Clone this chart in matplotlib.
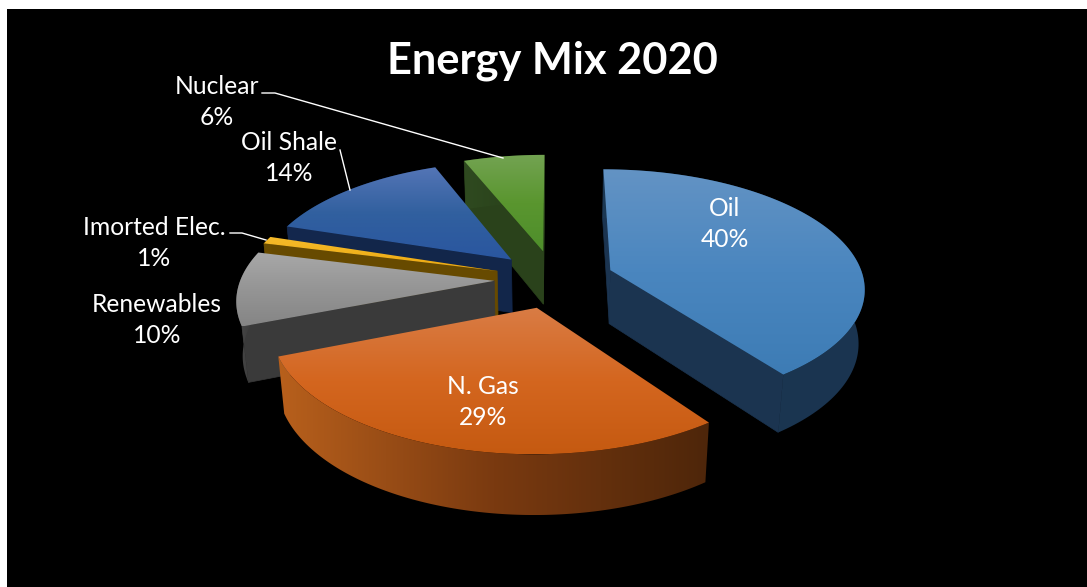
# -*- coding: utf-8 -*-
# Energy mix 2020, exploded 3D pie drawn by hand with polygons

import numpy as np
import matplotlib
matplotlib.use("Agg")
import matplotlib.pyplot as plt
from matplotlib.colors import LinearSegmentedColormap
from matplotlib.patches import Polygon, Rectangle

plt.rcParams['font.family'] = ['Lato', 'DejaVu Sans']

# data
categories = ["Oil", "N. Gas", "Renewables", "Imorted Elec.", "Oil Shale", "Nuclear"]
values = [40, 29, 10, 1, 14, 6]
top_colors = [("#6393c4", "#4a86bf", "#3d7cb5"), ("#d97c45", "#d4661f", "#c55a11"),
              ("#a8a8a8", "#959595", "#858585"), ("#f5bb2b", "#eda90f"),
              ("#5475b6", "#31609f", "#2a569f"), ("#73a352", "#5a962f", "#4e8e2b")]
side_colors = [("#1c3853", "#1a3450"), ("#b8601c", "#7a3a10", "#4e260a"), ("#4a4a4a", "#3c3c3c", "#3c3c3c"),
               ("#6a4c00", "#6a4c00"), ("#14284e", "#12264a"), ("#2f4a20", "#263d18")]
face_colors = ["#1b3450", "#8a4010", "#3a3a3a", "#674a00", "#12264a", "#2a421b"]

title = "Energy Mix 2020"

# projection settings (pixels)
CX, CY = 554, 279
A, B = 260, 126
K = 0.15
HEIGHT = 55
SHRINK = 0.02
EXPLODE = 0.23
RAD_U = 0.975
RAD_V = 0.93


def project(u, v, z):
    f = 1 / (1 - K * v + SHRINK * z)
    return CX + A * u * f, CY + B * v * f + HEIGHT * z * f


def rim(t, off_u, off_v, z):
    return project(RAD_U * np.sin(t) + off_u, -RAD_V * np.cos(t) + off_v, z)


def fill_gradient(ax, verts, colors, vertical=True, zorder=2):
    verts = np.array(verts)
    cmap = LinearSegmentedColormap.from_list("g", colors)
    grad = np.linspace(0, 1, 256)
    img = grad.reshape(-1, 1) if vertical else grad.reshape(1, -1)
    x0, x1 = verts[:, 0].min(), verts[:, 0].max()
    y0, y1 = verts[:, 1].min(), verts[:, 1].max()
    im = ax.imshow(img, cmap=cmap, extent=(x0, x1, y1, y0), aspect='auto',
                   zorder=zorder, interpolation='bilinear')
    patch = Polygon(verts, closed=True, transform=ax.transData, fc='none', ec='none')
    ax.add_patch(patch)
    im.set_clip_path(patch)


def draw_slice(ax, t1, t2, tops, sides, face, zorder):
    mid = (t1 + t2) / 2
    off_u = EXPLODE * np.sin(mid)
    off_v = -EXPLODE * np.cos(mid)
    ts = np.linspace(t1, t2, 120)

    apex_top = project(off_u, off_v, 0)
    apex_bot = project(off_u, off_v, 1)
    start_top = rim(t1, off_u, off_v, 0)
    end_top = rim(t2, off_u, off_v, 0)

    d2 = np.subtract(apex_bot, apex_top)
    # cut faces, only those turned to the viewer
    d1 = np.subtract(start_top, apex_top)
    if d1[0] * d2[1] - d1[1] * d2[0] < 0:
        ax.add_patch(Polygon([apex_top, start_top, rim(t1, off_u, off_v, 1), apex_bot],
                             fc=face, ec=face, lw=0.5, zorder=zorder))
    d1 = np.subtract(end_top, apex_top)
    if d1[0] * d2[1] - d1[1] * d2[0] > 0:
        ax.add_patch(Polygon([apex_top, end_top, rim(t2, off_u, off_v, 1), apex_bot],
                             fc=face, ec=face, lw=0.5, zorder=zorder))

    # outer wall
    wall = [rim(t, off_u, off_v, 0) for t in ts] + [rim(t, off_u, off_v, 1) for t in ts[::-1]]
    fill_gradient(ax, wall, sides, vertical=False, zorder=zorder + 0.1)

    # top
    top = [apex_top] + [rim(t, off_u, off_v, 0) for t in ts]
    fill_gradient(ax, top, tops, vertical=True, zorder=zorder + 0.2)


def main():
    fig = plt.figure(figsize=(10.87, 5.87), dpi=100, facecolor='white')
    ax = fig.add_axes([0, 0, 1, 1])
    ax.add_patch(Rectangle((7, 9), 1080, 578, fc='black', ec='none', zorder=0))

    # angles clockwise from 12 o'clock
    edges = np.cumsum([0] + values) / sum(values) * 2 * np.pi
    order = [5, 4, 3, 2, 0, 1]  # back to front
    for rank, i in enumerate(order):
        draw_slice(ax, edges[i], edges[i + 1], top_colors[i], side_colors[i],
                   face_colors[i], zorder=2 + rank)

    ax.text(552, 61, title, color='white', fontsize=31.2, fontweight='bold',
            ha='center', va='center', zorder=20)

    # labels
    label_pos = [(725, 224), (483, 402), (157, 320), (154, 243), (289, 158), (217, 102)]
    for name, val, (x, y) in zip(categories, values, label_pos):
        ax.text(x, y, name + "\n" + str(val) + "%", color='white', fontsize=17.7,
                ha='center', va='center', linespacing=1.42, zorder=20)

    # leader lines
    ax.plot([262, 275, 503], [93, 93, 158], color='white', lw=1, zorder=19)
    ax.plot([340, 350], [150, 190], color='white', lw=1, zorder=19)
    ax.plot([230, 242, 266], [233, 233, 240], color='white', lw=1, zorder=19)

    ax.set_xlim(0, 1087)
    ax.set_ylim(587, 0)
    ax.axis('off')
    fig.savefig("out.png", dpi=100, facecolor='white')


if __name__ == "__main__":
    main()
